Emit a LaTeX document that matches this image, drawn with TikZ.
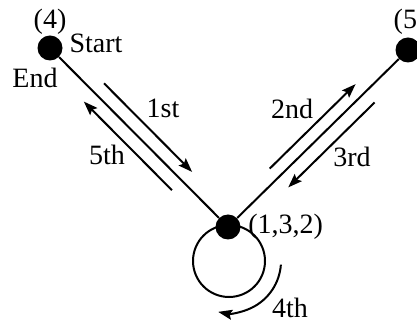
\documentclass[tikz,border=0pt]{standalone}
\usepackage{fontspec}
\setmainfont{Liberation Serif}
\usepackage{tikz}
\usetikzlibrary{arrows.meta,positioning,calc}

\begin{document}
\begin{tikzpicture}[
    x=0.5pt, y=0.5pt,
    font=\fontsize{14}{16}\selectfont,
    vertex/.style={
        circle, fill=black, inner sep=0pt, minimum size=12.5pt
    },
    edge/.style={line width=1pt},
    arrow/.style={-{Stealth[length=7pt,width=5pt,inset=1.2pt]}, line width=1pt},
    lbl/.style={inner sep=0pt}
]
\useasboundingbox (0,0) rectangle (417,-325);

% vertices
\node[vertex] (start) at (50,-48) {};
\node[vertex] (mid) at (228,-227) {};
\node[vertex] (right) at (408,-50) {};

\node[lbl] (lfour) at (50,-22) {(4)};
\node[lbl] (lstart) at (96,-43) {Start};
\node[lbl] (lend) at (35,-78) {End};
\node[lbl] (lfive) at (410,-22) {(5)};
\node[lbl, anchor=west] (lmid) at (248,-227) {(1,3,2)};

% edges
\draw[edge] (start) -- (mid);
\draw[edge] (mid) -- (right);
\coordinate (loopc) at ($(mid)+(1,-34)$);
\draw[edge] (loopc) circle[radius=18pt];

% traversal order
\draw[arrow] ($(start)!0.25!(mid)!6.7pt!90:(mid)$) -- ($(start)!0.745!(mid)!6.7pt!90:(mid)$);
\draw[arrow] ($(start)!0.74!(mid)!6.9pt!-90:(mid)$) -- ($(start)!0.245!(mid)!6.9pt!-90:(mid)$);
\draw[arrow] ($(mid)!0.28!(right)!6.2pt!90:(right)$) -- ($(mid)!0.757!(right)!6.2pt!90:(right)$);
\draw[arrow] ($(mid)!0.76!(right)!7pt!-90:(right)$) -- ($(mid)!0.28!(right)!7pt!-90:(right)$);
\draw[arrow] ($(loopc)+(-4:26pt)$) arc[start angle=-4, end angle=-102, radius=26pt];

\node[lbl] (first) at (163,-108) {1st};
\node[lbl] (fifth) at (107,-155) {5th};
\node[lbl] (second) at (292,-109) {2nd};
\node[lbl] (third) at (352,-157) {3rd};
\node[lbl] (fourth) at (290,-308) {4th};
\end{tikzpicture}
\end{document}
